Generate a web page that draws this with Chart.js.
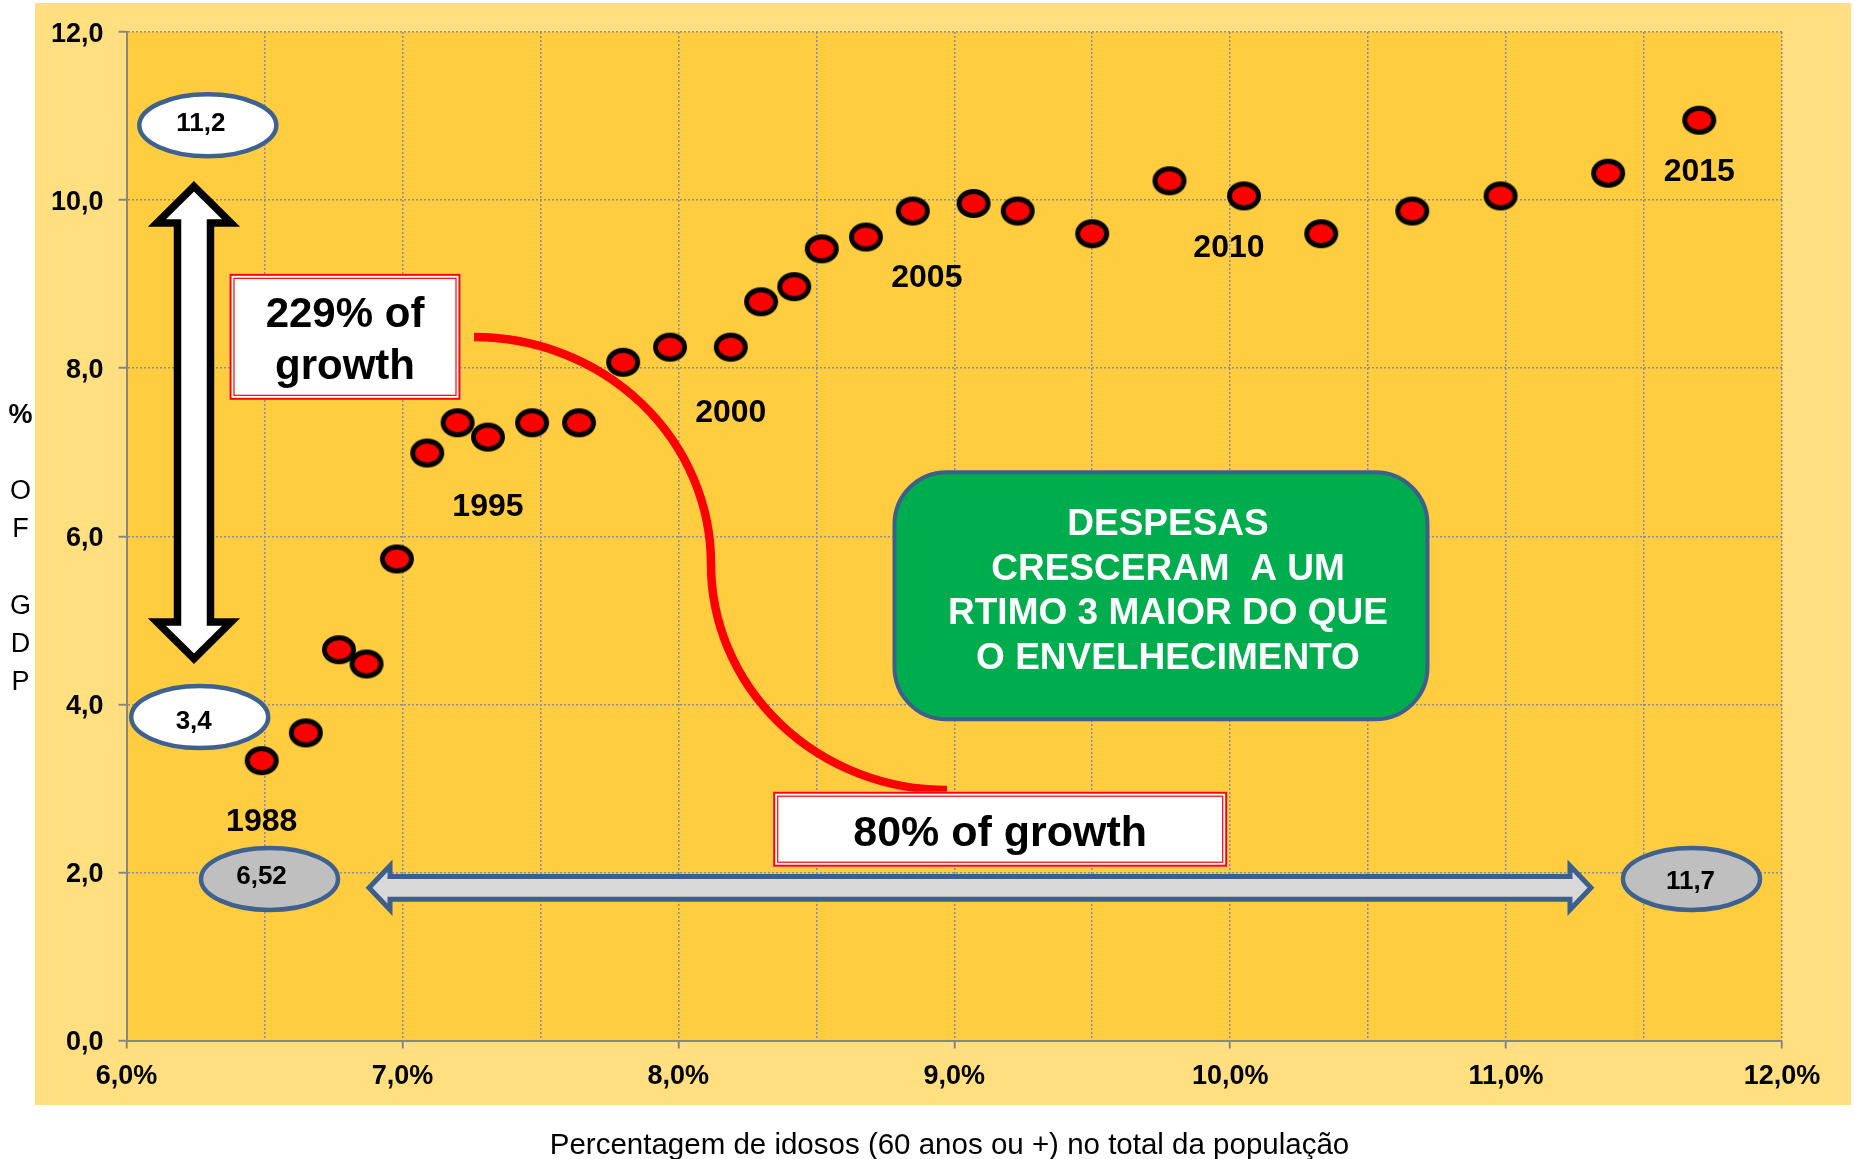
<!DOCTYPE html>
<html>
<head>
<meta charset="utf-8">
<script src="https://cdn.jsdelivr.net/npm/chart.js@4.4.1/dist/chart.umd.min.js"></script>
<style>
html,body{margin:0;padding:0;background:#ffffff;}
canvas{display:block;}
</style>
</head>
<body>
<canvas id="c" width="1854" height="1159"></canvas>
<script>
// ---------- DATA ----------
const years = [1988,1989,1990,1991,1992,1993,1994,1995,1996,1997,1998,1999,2000,2001,2002,2003,2004,2005,2006,2007,2008,2009,2010,2011,2012,2013,2014,2015];
// share of elderly (60+) in total population, %
const elderlyShare = [6.49,6.65,6.77,6.87,6.98,7.09,7.20,7.31,7.47,7.64,7.80,7.97,8.19,8.30,8.42,8.52,8.68,8.85,9.07,9.23,9.50,9.78,10.05,10.33,10.66,10.98,11.37,11.70];
// spending, % of GDP
const spendingGDP = [3.33,3.66,4.65,4.48,5.73,6.99,7.35,7.18,7.35,7.35,8.07,8.25,8.25,8.79,8.97,9.42,9.56,9.87,9.96,9.87,9.60,10.23,10.05,9.60,9.87,10.05,10.32,10.95];

const labelledYears = [1988,1995,2000,2005,2010,2015];
const xTickValues = [6,6.5,7,7.5,8,8.5,9,9.5,10,10.5,11,11.5,12];
const yTickValues = [0,2,4,6,8,10,12];

const bubbleTexts = ['11,2','3,4','6,52','11,7'];
const growthBoxTexts = [['229% of','growth'],['80% of growth']];
const calloutLines = ['DESPESAS','CRESCERAM  A UM','RTIMO 3 MAIOR DO QUE','O ENVELHECIMENTO'];
const yTitleLines = ['%','','O','F','','G','D','P'];
const xTitle = 'Percentagem de idosos (60 anos ou +) no total da população';

// ---------- STYLE / LAYOUT ----------
const FONT = "'Liberation Sans', Arial, Helvetica, sans-serif";
Chart.defaults.font.family = FONT;
const fmt = v => v.toFixed(1).replace('.', ',');
const MID = 0.09; // canvas 'middle' sits slightly above cap centre

// year-label offsets (px) from their data point
const yearLabelOffsets = {1988:[0,59],1995:[0,67],2000:[0,63],2005:[14,64],2010:[-15,49],2015:[0,49]};

// annotation anchors in data units
const bubbles = [
  {x:6.2947,y:10.890,fill:'#FFFFFF',dx:-7,dy:-4},
  {x:6.2653,y:3.849,fill:'#FFFFFF',dx:-6,dy:2},
  {x:6.5183,y:1.922,fill:'#BFBFBF',dx:-8,dy:-4},
  {x:11.672,y:1.922,fill:'#BFBFBF',dx:-1,dy:1}
];
const growthBoxes = [
  {x:6.7919,y:8.373,w:231,h:126,font:42,lineDy:[-25.6,26.5]},
  {x:9.1665,y:2.514,w:454,h:75,font:43,lineDy:[1.5]}
];
const callout = {x:9.7493,y:5.2915,w:533,h:247,r:52,tdx:7,lineDy:[-74.8,-29.8,14.2,59.2]};
const curve = {s:[7.2594,8.371], m:[8.1184,5.67], e:[8.9737,2.981]};
const vArrow = {x:6.2446, yTop:10.163, yBot:4.544};
const hArrow = {y:1.817, xLeft:6.8789, xRight:11.3077};

// ---------- MARKER ----------
function makeMarker(){
  const c = document.createElement('canvas');
  c.width = 38; c.height = 33;
  const g = c.getContext('2d');
  g.beginPath();
  g.ellipse(19,16.5,14.5,12,0,0,Math.PI*2);
  g.fillStyle = '#FF0000'; g.fill();
  g.lineWidth = 5; g.strokeStyle = '#000000'; g.stroke();
  return c;
}
const marker = makeMarker();

function text(ctx, s, x, y, size, weight){
  ctx.font = (weight ? weight + ' ' : '') + size + 'px ' + FONT;
  ctx.fillText(s, x, y + MID * size);
}

// ---------- DECORATION PLUGIN ----------
const deco = {
  id:'deco',
  beforeDraw(chart){
    const {ctx, chartArea:a} = chart;
    ctx.save();
    ctx.fillStyle = '#FFFFFF'; ctx.fillRect(0,0,chart.width,chart.height);
    ctx.fillStyle = '#FFDF80'; ctx.fillRect(35,3,1816,1102);
    ctx.fillStyle = '#FFCD3F'; ctx.fillRect(a.left,a.top,a.right-a.left,a.bottom-a.top);
    ctx.restore();
  },
  afterDraw(chart){
    const {ctx} = chart;
    const X = v => chart.scales.x.getPixelForValue(v);
    const Y = v => chart.scales.y.getPixelForValue(v);
    ctx.save();

    // red curve
    const S=[X(curve.s[0]),Y(curve.s[1])], M=[X(curve.m[0]),Y(curve.m[1])], E=[X(curve.e[0]),Y(curve.e[1])];
    ctx.beginPath();
    ctx.ellipse(S[0], M[1], M[0]-S[0], M[1]-S[1], 0, -Math.PI/2, 0, false);
    ctx.ellipse(E[0], M[1], E[0]-M[0], E[1]-M[1], 0, Math.PI, Math.PI/2, true);
    ctx.lineWidth = 8.5; ctx.strokeStyle = '#FF0000'; ctx.lineCap = 'butt'; ctx.stroke();

    // vertical white double arrow
    {
      const cx = X(vArrow.x), ty = Y(vArrow.yTop), by = Y(vArrow.yBot);
      const hw = 37, sw = 16.5, hl = 36.5;
      ctx.beginPath();
      ctx.moveTo(cx,ty); ctx.lineTo(cx+hw,ty+hl); ctx.lineTo(cx+sw,ty+hl);
      ctx.lineTo(cx+sw,by-hl); ctx.lineTo(cx+hw,by-hl); ctx.lineTo(cx,by);
      ctx.lineTo(cx-hw,by-hl); ctx.lineTo(cx-sw,by-hl); ctx.lineTo(cx-sw,ty+hl);
      ctx.lineTo(cx-hw,ty+hl); ctx.closePath();
      ctx.fillStyle = '#FFFFFF'; ctx.fill();
      ctx.lineJoin = 'miter'; ctx.lineWidth = 7.5; ctx.strokeStyle = '#000000'; ctx.stroke();
    }

    // horizontal grey double arrow
    {
      const cy = Y(hArrow.y), lx = X(hArrow.xLeft), rx = X(hArrow.xRight);
      const hh = 22, sh = 11.4, hl = 21;
      ctx.beginPath();
      ctx.moveTo(lx,cy); ctx.lineTo(lx+hl,cy-hh); ctx.lineTo(lx+hl,cy-sh);
      ctx.lineTo(rx-hl,cy-sh); ctx.lineTo(rx-hl,cy-hh); ctx.lineTo(rx,cy);
      ctx.lineTo(rx-hl,cy+hh); ctx.lineTo(rx-hl,cy+sh); ctx.lineTo(lx+hl,cy+sh);
      ctx.lineTo(lx+hl,cy+hh); ctx.closePath();
      ctx.fillStyle = '#D9D9D9'; ctx.fill();
      ctx.lineJoin = 'miter'; ctx.lineWidth = 5; ctx.strokeStyle = '#3D5F8E'; ctx.stroke();
    }

    // value bubbles
    ctx.textAlign = 'center'; ctx.textBaseline = 'middle';
    bubbles.forEach((b,i) => {
      const cx = X(b.x), cy = Y(b.y);
      ctx.beginPath(); ctx.ellipse(cx,cy,68.5,31,0,0,Math.PI*2);
      ctx.fillStyle = b.fill; ctx.fill();
      ctx.lineWidth = 4.5; ctx.strokeStyle = '#3E6190'; ctx.stroke();
      ctx.fillStyle = '#000';
      text(ctx, bubbleTexts[i], cx + b.dx, cy + b.dy, 26, 'bold');
    });

    // growth boxes
    growthBoxes.forEach((b,i) => {
      const cx = X(b.x), cy = Y(b.y);
      const l = cx - b.w/2, t = cy - b.h/2;
      ctx.fillStyle = '#FFFFFF'; ctx.fillRect(l,t,b.w,b.h);
      ctx.strokeStyle = '#FF0000';
      ctx.lineWidth = 2; ctx.strokeRect(l+1,t+1,b.w-2,b.h-2);
      ctx.lineWidth = 1.2; ctx.strokeRect(l+4.5,t+4.5,b.w-9,b.h-9);
      ctx.fillStyle = '#000';
      growthBoxTexts[i].forEach((s,j) => text(ctx, s, cx, cy + b.lineDy[j], b.font, 'bold'));
    });

    // green callout
    {
      const cx = X(callout.x), cy = Y(callout.y);
      const l = cx - callout.w/2, t = cy - callout.h/2;
      ctx.beginPath(); ctx.roundRect(l,t,callout.w,callout.h,callout.r);
      ctx.fillStyle = '#00AD4E'; ctx.fill();
      ctx.lineWidth = 4; ctx.strokeStyle = '#3D5F8E'; ctx.stroke();
      ctx.fillStyle = '#FFFFFF';
      calloutLines.forEach((s,j) => text(ctx, s, cx + callout.tdx, cy + callout.lineDy[j], 37, 'bold'));
    }

    // year labels
    ctx.fillStyle = '#000';
    labelledYears.forEach(yr => {
      const i = years.indexOf(yr);
      const o = yearLabelOffsets[yr];
      text(ctx, String(yr), X(elderlyShare[i]) + o[0], Y(spendingGDP[i]) + o[1], 32, 'bold');
    });

    // y title (stacked letters)
    yTitleLines.forEach((s,j) => text(ctx, s, 20.5, 413 + j*38.2, 27, j === 0 ? 'bold' : ''));

    // x title
    text(ctx, xTitle, 949.5, 1143, 29.5, '');

    ctx.restore();
  }
};

// ---------- CHART ----------
new Chart(document.getElementById('c'), {
  type:'scatter',
  data:{
    datasets:[{
      label:'Despesas (% PIB)',
      data: elderlyShare.map((x,i) => ({x:x, y:spendingGDP[i]})),
      pointStyle: marker,
      pointRadius: 16,
      showLine:false,
      clip:false
    }]
  },
  options:{
    responsive:false,
    animation:false,
    devicePixelRatio:1,
    layout:{padding:{top:32,right:72,bottom:0,left:0}},
    plugins:{legend:{display:false}, tooltip:{enabled:false}},
    scales:{
      x:{
        type:'linear', min:6, max:12,
        afterFit(s){ s.height = 118.5; },
        afterBuildTicks(s){ s.ticks = xTickValues.map(v => ({value:v})); },
        ticks:{autoSkip:false, maxRotation:0, minRotation:0, padding:11.5, color:'#000',
               font:{size:27, weight:'bold'},
               callback:(v) => Number.isInteger(v) ? fmt(v) + '%' : ''},
        grid:{color:'#8A8E9C', lineWidth:1.5, tickLength:8, tickWidth:2, tickBorderDash:[],
              tickColor:(c) => (c.tick && Number.isInteger(c.tick.value)) ? '#868686' : 'rgba(0,0,0,0)'},
        border:{display:true, color:'#868686', width:2, dash:[2,2]}
      },
      y:{
        type:'linear', min:0, max:12,
        afterFit(s){ s.width = 126.5; },
        afterBuildTicks(s){ s.ticks = yTickValues.map(v => ({value:v})); },
        ticks:{padding:15, labelOffset:2.5, color:'#000', font:{size:27, weight:'bold'}, callback:(v) => fmt(v)},
        grid:{color:'#8A8E9C', lineWidth:1.5, tickLength:8, tickWidth:2, tickBorderDash:[], tickColor:'#868686'},
        border:{display:true, color:'#868686', width:2, dash:[2,2]}
      }
    }
  },
  plugins:[deco]
});
</script>
</body>
</html>
